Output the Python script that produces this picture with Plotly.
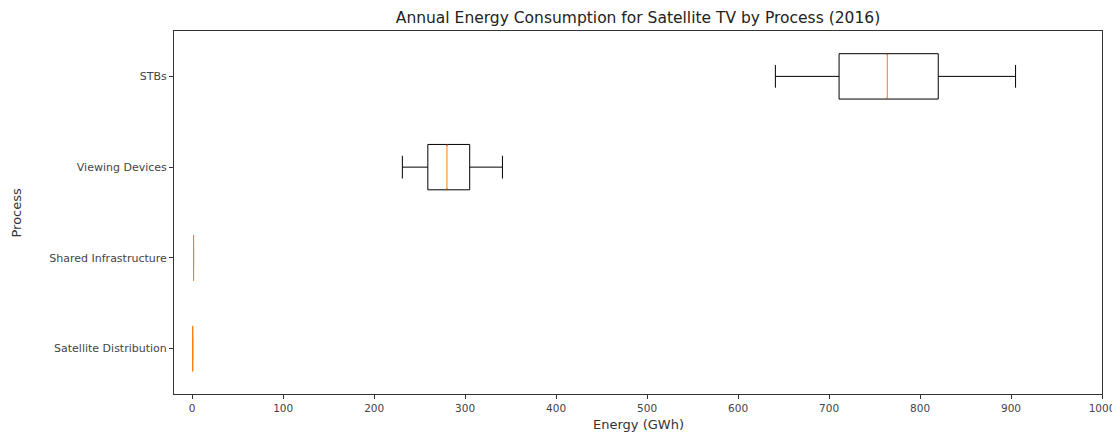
import plotly.graph_objects as go

processes = ["Satellite Distribution", "Shared Infrastructure", "Viewing Devices", "STBs"]
lower_whisker = [0.5, 1.5, 231, 641]
q1_values = [0.5, 1.5, 259, 711]
median_values = [0.5, 1.5, 280, 764]
q3_values = [0.5, 1.5, 305, 820]
upper_whisker = [0.5, 1.5, 341, 905]
x_ticks = [0, 100, 200, 300, 400, 500, 600, 700, 800, 900, 1000]

positions = list(range(1, len(processes) + 1))
box_width = 0.5
median_color = "#ff7f0e"

fig = go.Figure()
for i, pos in enumerate(positions):
    collapsed = q1_values[i] == q3_values[i] and lower_whisker[i] == upper_whisker[i]
    fig.add_trace(go.Box(
        y=[pos],
        orientation="h",
        q1=[q1_values[i]], median=[median_values[i]], q3=[q3_values[i]],
        lowerfence=[lower_whisker[i]], upperfence=[upper_whisker[i]],
        width=box_width,
        whiskerwidth=0.5,
        fillcolor="rgba(0,0,0,0)",
        line=dict(color=median_color if collapsed else "black", width=1),
        boxpoints=False,
        hoverinfo="skip",
        showlegend=False,
        name=processes[i],
    ))
    if not collapsed:
        inset = 0.015
        fig.add_shape(type="line", xref="x", yref="y",
                      x0=median_values[i], x1=median_values[i],
                      y0=pos - box_width / 2 + inset, y1=pos + box_width / 2 - inset,
                      line=dict(color="white", width=2.5))
        fig.add_shape(type="line", xref="x", yref="y",
                      x0=median_values[i], x1=median_values[i],
                      y0=pos - box_width / 2, y1=pos + box_width / 2,
                      line=dict(color=median_color, width=1))

font_family = "DejaVu Sans"
W, H = 1112, 424
L, R, T, B = 166, 18, 23, 38
plot_w = W - L - R
plot_h = H - T - B
fig.update_layout(
    width=W, height=H,
    margin=dict(l=L, r=R, t=T, b=B),
    paper_bgcolor="white", plot_bgcolor="white",
    title=dict(text="Annual Energy Consumption for Satellite TV by Process (2016)",
               x=(L + (W - R)) / 2 / W, xanchor="center", y=1 - 10 / H, yanchor="middle",
               font=dict(family=font_family, size=15.5, color="#222")),
    font=dict(family=font_family, size=11, color="#333"),
    annotations=[
        dict(text="Energy (GWh)", xref="paper", yref="paper", x=0.5, y=-30 / plot_h,
             xanchor="center", yanchor="middle", showarrow=False,
             font=dict(family=font_family, size=13, color="#333")),
        dict(text="Process", xref="paper", yref="paper", x=-(L - 8) / plot_w, y=0.5,
             xanchor="center", yanchor="middle", textangle=-90, showarrow=False,
             font=dict(family=font_family, size=13, color="#333")),
    ],
)
fig.update_xaxes(
    range=[-20, 1000], tickvals=x_ticks, ticktext=[str(v) for v in x_ticks],
    automargin=False,
    showgrid=False, zeroline=False,
    showline=True, linecolor="#333", linewidth=1, mirror=True,
    ticks="outside", ticklen=4, tickcolor="#333",
    tickfont=dict(size=10.5, color="#444"),
)
fig.update_yaxes(
    range=[0.5, 4.5], tickvals=positions, ticktext=processes,
    automargin=False,
    showgrid=False, zeroline=False,
    showline=True, linecolor="#333", linewidth=1, mirror=True,
    ticks="outside", ticklen=4, tickcolor="#333",
    tickfont=dict(size=11, color="#444"),
)

fig.write_html("out.html")
